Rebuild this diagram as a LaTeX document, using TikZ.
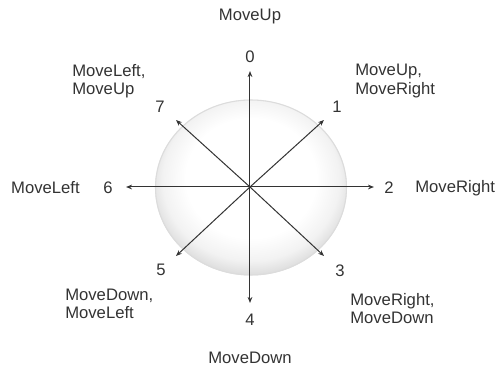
\documentclass[tikz,border=0pt]{standalone}
\usepackage{fontspec}
\setmainfont{Liberation Sans}
\usetikzlibrary{arrows.meta}
\definecolor{Ink}{HTML}{333333}
\definecolor{Rim}{HTML}{DCDCDC}
\pgfdeclareradialshading{ballglow}{\pgfpoint{0bp}{4bp}}{color(0bp)=(white); color(17bp)=(white); color(23bp)=(gray!10); color(27bp)=(gray!28); color(50bp)=(gray!28)}
\tikzset{
  dirarrow/.style={Ink,line width=0.75pt,-{Stealth[length=4.5pt,width=3.5pt]}},
  dirnum/.style={text=Ink,inner sep=0pt,font=\fontsize{12.5}{13.5}\selectfont},
  dirlabel/.style={text=Ink,inner sep=0pt,align=left,font=\fontsize{12.5}{13.5}\selectfont}
}
\begin{document}
\begin{tikzpicture}[x=0.75pt,y=0.75pt]
    \useasboundingbox (-250,-180) rectangle (250,187);

    % the ball behind the arrows
    \shade[shading=ballglow] (1,-0.5) ellipse (96 and 88);
    \draw[Rim,line width=0.8pt] (1,-0.5) ellipse (95.5 and 87.5);

    \coordinate (o) at (0,0);
    \foreach \i/\x/\y in {0/0/116,1/74/67,2/124/0,3/74/-69,4/0/-116,5/-74/-69,6/-124/0,7/-74/67}{
      \coordinate (e\i) at (\x,\y);
      \draw[dirarrow] (o) -- (e\i);
    }

    \node[dirnum] (n0) at (0,130) {0};
    \node[dirnum] (n1) at (87,80) {1};
    \node[dirnum] (n2) at (139,-1) {2};
    \node[dirnum] (n3) at (90,-84) {3};
    \node[dirnum] (n4) at (0,-133) {4};
    \node[dirnum] (n5) at (-89,-83) {5};
    \node[dirnum] (n6) at (-142,-1) {6};
    \node[dirnum] (n7) at (-90,80) {7};

    \node[dirlabel] (l0) at (0,170) {MoveUp};
    \node[dirlabel,anchor=west] (l1) at (105,106) {MoveUp,\\MoveRight};
    \node[dirlabel,anchor=west] (l2) at (165,-1) {MoveRight};
    \node[dirlabel,anchor=west] (l3) at (100,-122) {MoveRight,\\MoveDown};
    \node[dirlabel] (l4) at (0,-171) {MoveDown};
    \node[dirlabel,anchor=west] (l5) at (-185,-117) {MoveDown,\\MoveLeft};
    \node[dirlabel,anchor=east] (l6) at (-170,-1) {MoveLeft};
    \node[dirlabel,anchor=west] (l7) at (-178,106) {MoveLeft,\\MoveUp};
  \end{tikzpicture}
\end{document}
